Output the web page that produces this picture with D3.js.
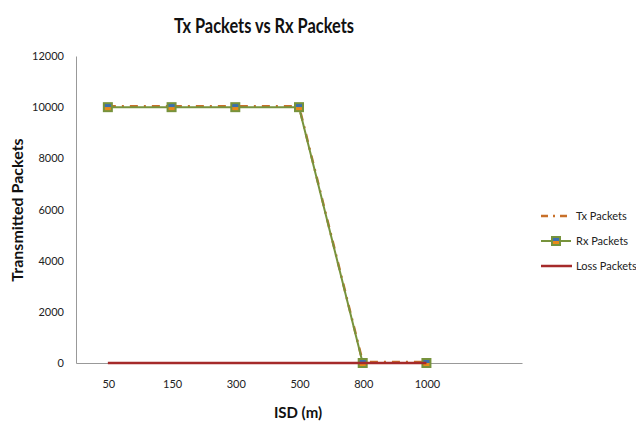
<!DOCTYPE html>
<html><head><meta charset="utf-8">
<script src="https://cdn.jsdelivr.net/npm/d3@7"></script>
<style>body{margin:0;background:#fff}svg{display:block}text{font-family:Lato,"Open Sans",sans-serif}</style>
</head><body><svg id="c" width="636" height="421"></svg>
<script>
const categories = ["50","150","300","500","800","1000"];
const txPackets = [10000,10000,10000,10000,0,0];
const rxPackets = [10000,10000,10000,10000,0,0];
const lossPackets = [0,0,0,0,0,0];
const yTicks = [0,2000,4000,6000,8000,10000,12000];

const svg = d3.select("#c");
const L=76, R=522, T=56, B=363;
const x = d3.scaleBand().domain(categories.concat([" "])).range([L,R]);
const cx = d => x(d)+x.bandwidth()/2;
const y = d3.scaleLinear().domain([0,12000]).range([B,T]);

svg.append("text").attr("x",264).attr("y",33).attr("text-anchor","middle")
  .attr("font-size",20.5).attr("font-weight","bold").attr("fill","#111")
  .attr("textLength",180).attr("lengthAdjust","spacingAndGlyphs").text("Tx Packets vs Rx Packets");

const ya = svg.append("g").attr("transform",`translate(${L},0)`)
  .call(d3.axisLeft(y).tickValues(yTicks).tickSize(0).tickPadding(12).tickFormat(d3.format("d")));
ya.select(".domain").attr("stroke","#999");
ya.selectAll("text").attr("font-size",11).attr("fill","#222");

const xa = svg.append("g").attr("transform",`translate(0,${B})`)
  .call(d3.axisBottom(x).tickSize(0).tickPadding(17));
xa.select(".domain").attr("stroke","#999");
xa.selectAll("text").attr("font-size",11).attr("fill","#222").attr("dx",1);

svg.append("text").attr("x",298).attr("y",418).attr("text-anchor","middle")
  .attr("font-size",15).attr("font-weight","bold").attr("fill","#111").text("ISD (m)");
svg.append("text").attr("transform","translate(23,210) rotate(-90)").attr("text-anchor","middle")
  .attr("font-size",16).attr("font-weight","bold").attr("fill","#111").text("Transmitted Packets");

const line = d3.line().x((d,i)=>cx(categories[i])).y(d=>y(d));

svg.append("path").datum(txPackets).attr("d",line).attr("fill","none")
  .attr("stroke","#C8702A").attr("stroke-width",2.5).attr("stroke-dasharray","8,6,2,6")
  .attr("transform","translate(0,-1)");
svg.append("path").datum(rxPackets).attr("d",line).attr("fill","none")
  .attr("stroke","#77933C").attr("stroke-width",2);

const defs = svg.append("defs");
const g = defs.append("linearGradient").attr("id","mk").attr("x1",0).attr("y1",0).attr("x2",0).attr("y2",1);
g.append("stop").attr("offset","0%").attr("stop-color","#3A6FB0");
g.append("stop").attr("offset","45%").attr("stop-color","#3A6FB0");
g.append("stop").attr("offset","55%").attr("stop-color","#E88A1A");
g.append("stop").attr("offset","100%").attr("stop-color","#E88A1A");

function marker(sel, px, py){
  sel.append("rect").attr("x",px-4).attr("y",py-4).attr("width",8).attr("height",8)
    .attr("fill","url(#mk)").attr("stroke","#77933C").attr("stroke-width",2);
}
rxPackets.forEach((v,i)=>marker(svg, cx(categories[i]), y(v)));

svg.append("path").datum(lossPackets).attr("d",line).attr("fill","none")
  .attr("stroke","#A52A2A").attr("stroke-width",2.5);

const lg = svg.append("g");
const items = [["Tx Packets","tx"],["Rx Packets","rx"],["Loss Packets","loss"]];
items.forEach((it,i)=>{
  const ly = 216 + i*25;
  if(it[1]==="tx"){
    lg.append("line").attr("x1",541).attr("x2",569).attr("y1",ly).attr("y2",ly)
      .attr("stroke","#C8702A").attr("stroke-width",2.5).attr("stroke-dasharray","7,5,2,5");
  } else if(it[1]==="rx"){
    lg.append("line").attr("x1",541).attr("x2",571).attr("y1",ly).attr("y2",ly)
      .attr("stroke","#77933C").attr("stroke-width",2);
    marker(lg,556,ly);
  } else {
    lg.append("line").attr("x1",541).attr("x2",572).attr("y1",ly).attr("y2",ly)
      .attr("stroke","#A52A2A").attr("stroke-width",2.5);
  }
  lg.append("text").attr("x",576).attr("y",ly+4).attr("font-size",11).attr("fill","#222").text(it[0]);
});
</script></body></html>
